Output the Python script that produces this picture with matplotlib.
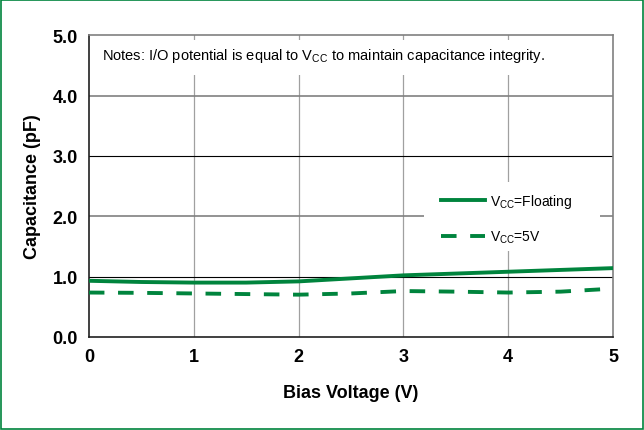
import matplotlib.pyplot as plt
from matplotlib.patches import Rectangle

bias_v = [0, 0.5, 1, 1.5, 2, 2.5, 3, 3.5, 4, 4.5, 5]
cap_floating = [0.93, 0.91, 0.90, 0.90, 0.92, 0.97, 1.02, 1.05, 1.08, 1.11, 1.14]
cap_5v = [0.735, 0.73, 0.72, 0.71, 0.70, 0.72, 0.76, 0.75, 0.735, 0.75, 0.80]

x_ticks = [0, 1, 2, 3, 4, 5]
y_ticks = [0.0, 1.0, 2.0, 3.0, 4.0, 5.0]

green = "#00843D"
bold_font = ["Liberation Sans", "DejaVu Sans"]
note_font = ["Liberation Sans Narrow", "Liberation Sans", "DejaVu Sans"]

fig = plt.figure(figsize=(6.44, 4.31), dpi=100)
fig.patches.append(Rectangle((0.002, 0.002), 0.996, 0.995, transform=fig.transFigure,
                             fill=False, edgecolor=green, linewidth=1.2))
ax = fig.add_axes([0.138, 0.216, 0.814, 0.700])

ax.set_xlim(0, 5)
ax.set_ylim(0, 5)
ax.set_xticks(x_ticks)
ax.set_yticks(y_ticks)
ax.set_xticklabels([str(t) for t in x_ticks], fontsize=13, fontweight="bold", family=bold_font)
ax.set_yticklabels([f"{t:.1f}" for t in y_ticks], fontsize=13, fontweight="bold", family=bold_font)
ax.tick_params(length=0)
ax.tick_params(axis="x", pad=8)
ax.tick_params(axis="y", pad=8)

# grid
for xv in x_ticks[1:-1]:
    ax.axvline(xv, color="#a0a0a0", linewidth=0.9, zorder=1)
for yv in y_ticks[1:-1]:
    ax.axhline(yv, color="black" if yv in (1.0, 3.0) else "#808080",
               linewidth=0.8 if yv in (1.0, 3.0) else 1.2, zorder=1)

for side in ("left", "bottom"):
    ax.spines[side].set_color("#202020")
    ax.spines[side].set_linewidth(1.2)
for side in ("right", "top"):
    ax.spines[side].set_color("#808080")
    ax.spines[side].set_linewidth(1.2)

ax.plot(bias_v, cap_floating, color=green, linewidth=2.8, zorder=3,
        label=r"V$_{\mathregular{CC}}$=Floating")
ax.plot(bias_v, cap_5v, color=green, linewidth=2.8, linestyle=(0, (4, 3.5)), zorder=3,
        label=r"V$_{\mathregular{CC}}$=5V")

# note band
ax.add_patch(Rectangle((0.003, 0.868), 0.994, 0.116, transform=ax.transAxes,
                       facecolor="white", edgecolor="none", zorder=2))
ax.text(0.025, 0.935, r"Notes: I/O potential is equal to V$_{\mathregular{CC}}$ to maintain capacitance integrity.",
        transform=ax.transAxes, fontsize=10.5, family=note_font, va="center", zorder=4)

# legend background
ax.add_patch(Rectangle((0.639, 0.285), 0.336, 0.228, transform=ax.transAxes,
                       facecolor="white", edgecolor="none", zorder=2))
leg = ax.legend(loc="upper left", bbox_to_anchor=(0.64, 0.535), frameon=False,
                prop={"family": "Liberation Sans", "size": 10},
                handlelength=3.2, labelspacing=1.35, borderpad=0.7, handletextpad=0.35)
leg.set_zorder(5)

ax.set_xlabel("Bias Voltage (V)", fontsize=13, fontweight="bold", family=bold_font, labelpad=14)
ax.set_ylabel("Capacitance (pF)", fontsize=13, fontweight="bold", family=bold_font, labelpad=8)

fig.savefig("out.png", dpi=100)
